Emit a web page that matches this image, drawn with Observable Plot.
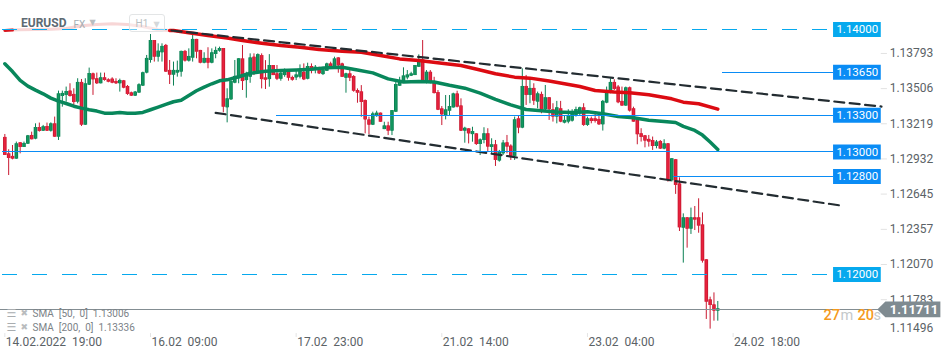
<!DOCTYPE html>
<html>
<head>
<meta charset="utf-8">
<script src="https://cdn.jsdelivr.net/npm/d3@7"></script>
<script src="https://cdn.jsdelivr.net/npm/@observablehq/plot@0.6"></script>
<style>
html,body{margin:0;padding:0;background:#fff}
#wrap{position:relative;width:950px;height:360px;overflow:hidden}
#wrap svg{display:block}
#wrap svg text{white-space:pre}
#tf{position:absolute;left:129px;top:14px;width:34px;height:16px;border:1px solid #e3e5e6;border-radius:3px;background:rgba(255,255,255,.4)}
</style>
</head>
<body>
<div id="wrap"><div id="tf"></div></div>
<script>
// H1 candles of EURUSD, one entry per hour bar
const open = [
1.13119,1.12985,1.12964,1.12942,1.13075,1.13037,1.13064,1.13135,1.13105,1.13200,
1.13170,1.13208,1.13170,1.13230,1.13121,1.13453,1.13462,1.13497,1.13470,1.13407,
1.13568,1.13219,1.13546,1.13638,1.13598,1.13557,1.13606,1.13589,1.13595,1.13576,
1.13557,1.13581,1.13535,1.13483,1.13456,1.13481,1.13538,1.13644,1.13747,1.13910,
1.13774,1.13810,1.13870,1.13666,1.13627,1.13644,1.13652,1.13821,1.13742,1.13766,
1.13919,1.13829,1.13725,1.13764,1.13725,1.13796,1.13823,1.13845,1.13361,1.13426,
1.13562,1.13598,
1.13760,1.13583,1.13610,1.13774,1.13657,1.13787,1.13605,1.13591,1.13706,1.13638,
1.13594,1.13624,1.13651,1.13608,1.13605,1.13610,1.13651,1.13594,1.13698,1.13665,
1.13670,1.13632,1.13659,1.13719,1.13698,1.13768,1.13719,1.13602,1.13638,1.13616,
1.13502,1.13491,1.13420,1.13262,1.13219,1.13289,1.13317,1.13183,1.13213,1.13170,
1.13325,1.13537,1.13575,1.13605,1.13619,1.13624,1.13692,1.13752,1.13570,1.13651,
1.13572,1.13485,1.13352,1.13298,1.13333,1.13360,1.13474,1.13376,1.13170,1.13189,
1.13142,1.13148,1.13061,1.13094,1.13149,1.13037,1.13059,1.12926,1.12985,1.13075,
1.13048,1.12964,1.13271,1.13195,1.13535,1.13462,1.13519,1.13407,1.13470,1.13345,
1.13443,1.13345,1.13285,1.13353,1.13236,1.13244,1.13252,1.13298,1.13312,1.13361,
1.13217,1.13271,1.13271,1.13266,1.13222,1.13399,1.13481,1.13568,1.13530,1.13413,
1.13375,1.13524,1.13353,1.13258,1.13149,1.13132,1.13103,1.13094,1.13045,1.13086,
1.13024,1.13067,1.12765,1.12937,1.12740,1.12378,1.12463,1.12370,1.12463,1.12463,
1.12405,1.12120,1.11793,1.11752,1.11701];
const close = [
1.12972,1.12947,1.12942,1.13067,1.13037,1.13070,1.13132,1.13100,1.13200,1.13168,
1.13206,1.13170,1.13230,1.13121,1.13475,1.13478,1.13494,1.13453,1.13404,1.13568,
1.13219,1.13557,1.13641,1.13589,1.13557,1.13606,1.13584,1.13570,1.13562,1.13557,
1.13584,1.13521,1.13470,1.13456,1.13489,1.13549,1.13647,1.13764,1.13910,1.13774,
1.13823,1.13862,1.13652,1.13627,1.13666,1.13666,1.13821,1.13742,1.13780,1.13919,
1.13815,1.13725,1.13764,1.13725,1.13810,1.13829,1.13845,1.13366,1.13434,1.13576,
1.13617,1.13761,
1.13575,1.13638,1.13768,1.13657,1.13795,1.13591,1.13586,1.13706,1.13624,1.13594,
1.13643,1.13651,1.13602,1.13586,1.13629,1.13659,1.13589,1.13698,1.13676,1.13692,
1.13638,1.13670,1.13719,1.13698,1.13760,1.13703,1.13610,1.13638,1.13602,1.13496,
1.13480,1.13404,1.13262,1.13219,1.13311,1.13317,1.13243,1.13213,1.13170,1.13338,
1.13551,1.13570,1.13621,1.13629,1.13638,1.13706,1.13733,1.13575,1.13651,1.13564,
1.13477,1.13341,1.13303,1.13344,1.13371,1.13474,1.13366,1.13170,1.13194,1.13148,
1.13167,1.13061,1.13099,1.13149,1.13040,1.13059,1.12931,1.12996,1.13073,1.13040,
1.12964,1.13263,1.13195,1.13535,1.13462,1.13519,1.13415,1.13475,1.13345,1.13443,
1.13345,1.13285,1.13361,1.13244,1.13258,1.13298,1.13307,1.13347,1.13361,1.13217,
1.13271,1.13249,1.13249,1.13222,1.13413,1.13481,1.13568,1.13511,1.13402,1.13375,
1.13524,1.13334,1.13244,1.13141,1.13119,1.13089,1.13081,1.13045,1.13081,1.13024,
1.13067,1.12768,1.12945,1.12727,1.12381,1.12463,1.12370,1.12463,1.12444,1.12395,
1.12109,1.11774,1.11747,1.11701,1.11720];
const high = [
1.13143,1.13018,1.13053,1.13081,1.13075,1.13081,1.13135,1.13162,1.13230,1.13236,
1.13217,1.13236,1.13238,1.13285,1.13497,1.13497,1.13530,1.13557,1.13516,1.13598,
1.13592,1.13598,1.13685,1.13644,1.13644,1.13644,1.13644,1.13598,1.13606,1.13598,
1.13595,1.13584,1.13543,1.13489,1.13494,1.13557,1.13652,1.13788,1.13959,1.13910,
1.13883,1.13883,1.13878,1.13747,1.13734,1.13742,1.13823,1.13829,1.13842,1.13951,
1.13919,1.13829,1.13810,1.13851,1.13842,1.13856,1.13856,1.13845,1.13516,1.13598,
1.13747,1.13761,
1.13869,1.13651,1.13801,1.13801,1.13801,1.13801,1.13746,1.13795,1.13706,1.13706,
1.13651,1.13678,1.13665,1.13619,1.13665,1.13711,1.13719,1.13725,1.13719,1.13706,
1.13692,1.13692,1.13725,1.13733,1.13774,1.13768,1.13725,1.13643,1.13665,1.13624,
1.13515,1.13542,1.13425,1.13284,1.13325,1.13333,1.13317,1.13243,1.13243,1.13338,
1.13583,1.13610,1.13687,1.13665,1.13651,1.13706,1.13793,1.13910,1.13665,1.13665,
1.13610,1.13502,1.13371,1.13461,1.13461,1.13480,1.13496,1.13434,1.13202,1.13189,
1.13202,1.13148,1.13107,1.13198,1.13190,1.13108,1.13094,1.13013,1.13094,1.13135,
1.13059,1.13285,1.13298,1.13679,1.13625,1.13590,1.13557,1.13489,1.13489,1.13543,
1.13443,1.13394,1.13413,1.13413,1.13298,1.13345,1.13345,1.13366,1.13366,1.13394,
1.13285,1.13285,1.13312,1.13312,1.13421,1.13530,1.13598,1.13590,1.13543,1.13530,
1.13530,1.13530,1.13366,1.13271,1.13190,1.13135,1.13135,1.13122,1.13094,1.13094,
1.13100,1.13067,1.12945,1.12939,1.12789,1.12495,1.12463,1.12542,1.12555,1.12618,
1.12503,1.12120,1.11815,1.11850,1.11780];
const low = [
1.12972,1.12808,1.12936,1.12942,1.12985,1.13037,1.13062,1.13100,1.13100,1.13162,
1.13168,1.13168,1.13162,1.13121,1.13094,1.13366,1.13407,1.13448,1.13372,1.13393,
1.13208,1.13217,1.13543,1.13462,1.13551,1.13557,1.13578,1.13565,1.13557,1.13551,
1.13489,1.13516,1.13462,1.13453,1.13453,1.13481,1.13535,1.13638,1.13725,1.13734,
1.13734,1.13734,1.13652,1.13551,1.13538,1.13611,1.13611,1.13734,1.13734,1.13734,
1.13761,1.13720,1.13720,1.13679,1.13720,1.13761,1.13815,1.13320,1.13238,1.13421,
1.13557,1.13557,
1.13502,1.13439,1.13561,1.13624,1.13638,1.13515,1.13510,1.13529,1.13624,1.13583,
1.13578,1.13610,1.13578,1.13578,1.13583,1.13597,1.13583,1.13589,1.13638,1.13638,
1.13632,1.13624,1.13659,1.13692,1.13698,1.13643,1.13610,1.13480,1.13575,1.13488,
1.13398,1.13284,1.13148,1.13142,1.13216,1.13284,1.13243,1.13183,1.13134,1.13134,
1.13325,1.13537,1.13570,1.13589,1.13616,1.13624,1.13692,1.13570,1.13556,1.13556,
1.13474,1.13338,1.13216,1.13262,1.13298,1.13360,1.13360,1.13167,1.13072,1.13066,
1.13080,1.13053,1.12971,1.13067,1.12999,1.12985,1.12882,1.12917,1.12972,1.12985,
1.12931,1.12931,1.13149,1.13190,1.13380,1.13394,1.13380,1.13353,1.13312,1.13326,
1.13258,1.13244,1.13230,1.13239,1.13230,1.13230,1.13244,1.13285,1.13298,1.13209,
1.13209,1.13230,1.13236,1.13217,1.13171,1.13394,1.13475,1.13502,1.13394,1.13375,
1.13375,1.13326,1.13244,1.13059,1.13081,1.13034,1.13040,1.13013,1.13026,1.13021,
1.13018,1.12754,1.12755,1.12654,1.12351,1.12093,1.12215,1.12327,1.12359,1.12337,
1.12093,1.11633,1.11554,1.11619,1.11619];

// moving averages, sampled at these bar numbers
const sma50Bar = [0,2,4,6,8,10,12,14,16,18,20,22,24,26,28,30,32,34,36,38,40,42,44,46,48,50,52,54,56,58,60,61,
64,68,72,76,80,84,88,92,96,100,104,108,112,116,120,124,
128,132,136,140,144,148,152,156,160,164,168,172,175,177,180,182,184,186];
const sma50 = [1.13720,1.13657,1.13584,1.13538,1.13505,1.13475,1.13440,1.13415,1.13396,1.13374,1.13358,1.13345,1.13334,1.13317,1.13317,1.13323,1.13317,1.13317,1.13323,1.13345,1.13366,1.13388,1.13410,1.13423,1.13462,1.13500,1.13530,1.13557,1.13581,1.13589,1.13606,1.13614,
1.13643,1.13659,1.13665,1.13670,1.13676,1.13687,1.13692,1.13670,1.13646,1.13597,1.13572,1.13575,1.13572,1.13545,1.13521,1.13480,
1.13429,1.13385,1.13347,1.13336,1.13326,1.13323,1.13328,1.13312,1.13290,1.13279,1.13260,1.13249,1.13241,1.13209,1.13176,1.13138,1.13081,1.13021];
const sma200Bar = [0,2,4,8,12,16,20,24,28,32,36,40,43,44,48,53,58,
62,67,72,77,82,88,93,98,103,108,114,119,124,
128,133,137,142,146,150,154,159,163,168,174,177,181,186];
const sma200 = [1.13992,1.13995,1.13998,1.14000,1.14003,1.14008,1.14030,1.14041,1.14047,1.14041,1.14025,1.13998,1.13992,1.13992,1.13973,1.13951,1.13930,
1.13910,1.13888,1.13869,1.13855,1.13836,1.13823,1.13815,1.13787,1.13760,1.13746,1.13725,1.13706,1.13670,
1.13639,1.13611,1.13603,1.13579,1.13557,1.13535,1.13502,1.13489,1.13483,1.13467,1.13434,1.13407,1.13394,1.13350];
const headerFadeFrom = 2, headerFadeTo = 43;

// horizontal price levels
const levelPrice = [1.14,1.1365,1.133,1.13,1.128,1.12];
const levelLabel = ["1.14000","1.13650","1.13300","1.13000","1.12800","1.12000"];
const levelFrom = [-0.6,187.2,70.9,-0.6,174.4,-0.6];
const levelDashed = [true,false,false,false,false,true];
const levelEnd = 216.2, tagEnd = 228.65;

// channel lines (bar, price)
const upperBar = [43.5,228.7], upperPrice = [1.13992,1.13371];
const lowerBar = [55,218.5], lowerPrice = [1.13320,1.12561];

// axes
const priceTicks = [1.13793,1.13506,1.13219,1.12932,1.12645,1.12357,1.12070,1.11783,1.11553];
const priceTickLabels = ["1.13793","1.13506","1.13219","1.12932","1.12645","1.12357","1.12070","1.11783","1.11496"];
const timeTicks = [0,38,76,114,152,190];
const timeLabels = ["14.02.2022  19:00","16.02  09:00","17.02  23:00","21.02  14:00","23.02  04:00","24.02  18:00"];

const last = 1.11711;
const legendLines = ["SMA  [50,  0]  1.13006","SMA  [200,  0]  1.13336"];

const UP = "#0b8054", DOWN = "#c91a31", UP2 = "#13975f", DOWN2 = "#e8213d";
const BLUE = "#0a8cf5", SKY = "#06a9ee", GREY = "#838d92", INK = "#5b6266";

const bars = open.map((o,i)=>({i,o,c:close[i],h:high[i],l:low[i],col:close[i]>=o?UP:DOWN,col2:close[i]>=o?UP2:DOWN2}));
const line50 = sma50Bar.map((b,i)=>({b,v:sma50[i]}));
const line200 = sma200Bar.map((b,i)=>({b,v:sma200[i]}));
const levels = levelPrice.map((p,i)=>({p,label:levelLabel[i],from:levelFrom[i],dash:levelDashed[i],col:levelDashed[i]?SKY:BLUE}));
const chan = (bx,py)=>bx.map((b,i)=>({b,v:py[i]}));
const pip = 0.00065;
const tag = [{x:tagEnd-0.9,y1:last,y2:last},{x:tagEnd+1.2,y1:last-pip,y2:last+pip},{x:244.2,y1:last-pip,y2:last+pip}];
const free = (text,dx,dy,o={})=>Plot.text([text],{text:d=>d,frameAnchor:"top-left",dx,dy,lineAnchor:"middle",textAnchor:"start",...o});

const chart = Plot.plot({
  width:950,height:360,margin:0,
  style:{fontFamily:"Roboto, sans-serif",background:"#fff"},
  x:{axis:null,type:"linear",domain:[-1.13,246.71],range:[0,950]},
  y:{axis:null,type:"linear",domain:[1.11298,1.142367],range:[360,0]},
  marks:[
    // tick stubs and axis labels
    Plot.ruleY(priceTicks.slice(0,-1),{y:d=>d,x1:tagEnd,x2:tagEnd+1.6,dy:-1.4,stroke:"#e2e2e2"}),
    Plot.text(priceTickLabels,{text:d=>d,x:tagEnd+2.2,y:(d,i)=>priceTicks[i],dy:-1.4,textAnchor:"start",fontSize:12,fill:INK}),
    Plot.ruleX(timeTicks,{x:d=>d,y1:1.11518,y2:1.11486,stroke:"#e4e4e4"}),
    Plot.text(timeTicks,{x:d=>d,text:(d,i)=>timeLabels[i],frameAnchor:"bottom",dy:-18,lineAnchor:"middle",textAnchor:"start",fontSize:12,fill:INK,dx:1}),
    // candles
    Plot.ruleX(bars,{x:"i",y1:"l",y2:"h",stroke:"col",strokeWidth:1}),
    Plot.ruleX(bars,{x:"i",y1:"o",y2:"c",stroke:"col",strokeWidth:3.6}),
    Plot.ruleX(bars,{x:"i",y1:"o",y2:"c",stroke:"col2",strokeWidth:1.8}),
    // moving averages
    Plot.line(line50,{x:"b",y:"v",stroke:"#08875b",strokeWidth:3.5}),
    Plot.line(line200.filter(d=>d.b>=headerFadeFrom&&d.b<=headerFadeTo),{x:"b",y:"v",stroke:"#f7d6d6",strokeWidth:3}),
    Plot.line(line200.filter(d=>d.b<=headerFadeFrom),{x:"b",y:"v",stroke:"#d8141c",strokeWidth:3}),
    Plot.line(line200.filter(d=>d.b>=headerFadeTo),{x:"b",y:"v",stroke:"#dc0b12",strokeWidth:3.5}),
    // channel
    Plot.line(chan(upperBar,upperPrice),{x:"b",y:"v",stroke:"#232c31",strokeWidth:2.2,strokeDasharray:"10 5.5"}),
    Plot.line(chan(lowerBar,lowerPrice),{x:"b",y:"v",stroke:"#232c31",strokeWidth:2.2,strokeDasharray:"10 5.5"}),
    // last price line
    Plot.ruleY([last],{y:d=>d,x1:-1.13,x2:tagEnd,stroke:GREY,shapeRendering:"crispEdges"}),
    // levels
    Plot.ruleY(levels.filter(d=>!d.dash),{y:"p",x1:"from",x2:levelEnd,stroke:"col",shapeRendering:"crispEdges"}),
    Plot.ruleY(levels.filter(d=>d.dash),{y:"p",x1:"from",x2:levelEnd,stroke:"col",strokeDasharray:"15 15",shapeRendering:"crispEdges"}),
    Plot.ruleY(levels,{y:"p",x1:levelEnd,x2:tagEnd,stroke:"col",strokeWidth:15}),
    Plot.text(levels,{x:levelEnd+6.2,y:"p",text:"label",fill:"#fff",fontSize:11.5}),
    // last price tag
    Plot.areaY(tag,{x:"x",y1:"y1",y2:"y2",fill:"#7f8b91"}),
    Plot.text([last],{x:tagEnd+2.2,y:d=>d,text:d=>d.toFixed(5),fill:"#fff",fontSize:13,fontWeight:"bold",textAnchor:"start"}),
    // countdown
    free("27",823,315,{fontSize:14.5,fontWeight:500,fill:"#f59a1c"}),
    free("m",840,315,{fontSize:14.5,fill:"#c4c8ca"}),
    free("20",857,315,{fontSize:14.5,fontWeight:500,fill:"#f59a1c"}),
    free("s",873,315,{fontSize:14.5,fill:"#c4c8ca"}),
    // header
    free("EURUSD",20.5,23,{fontSize:12,fontWeight:"bold",fill:"#5e6a72"}),
    free("FX",73,24,{fontSize:10,fill:"#a6aeb3"}),
    free("▼",89,22,{fontSize:8,fill:"#b9bec1",fontFamily:"DejaVu Sans"}),
    free("H1",135,23.5,{fontSize:10,fill:"#8a9399"}),
    free("▼",153,24,{fontSize:8,fill:"#b9bec1",fontFamily:"DejaVu Sans"}),
    // indicator legend
    free("☰",6,313,{fontSize:11,fill:"#a9adb0",fontFamily:"DejaVu Sans"}),
    free("✖",20,313,{fontSize:9,fill:"#b9bcbe",fontFamily:"DejaVu Sans"}),
    free(legendLines[0],32,313.5,{fontSize:10,fill:"#7b8287"}),
    free("☰",6,326.5,{fontSize:11,fill:"#a9adb0",fontFamily:"DejaVu Sans"}),
    free("✖",20,326.5,{fontSize:9,fill:"#b9bcbe",fontFamily:"DejaVu Sans"}),
    free(legendLines[1],32,327,{fontSize:10,fill:"#7b8287"})
  ]
});
document.getElementById("wrap").prepend(chart);
</script>
</body>
</html>
